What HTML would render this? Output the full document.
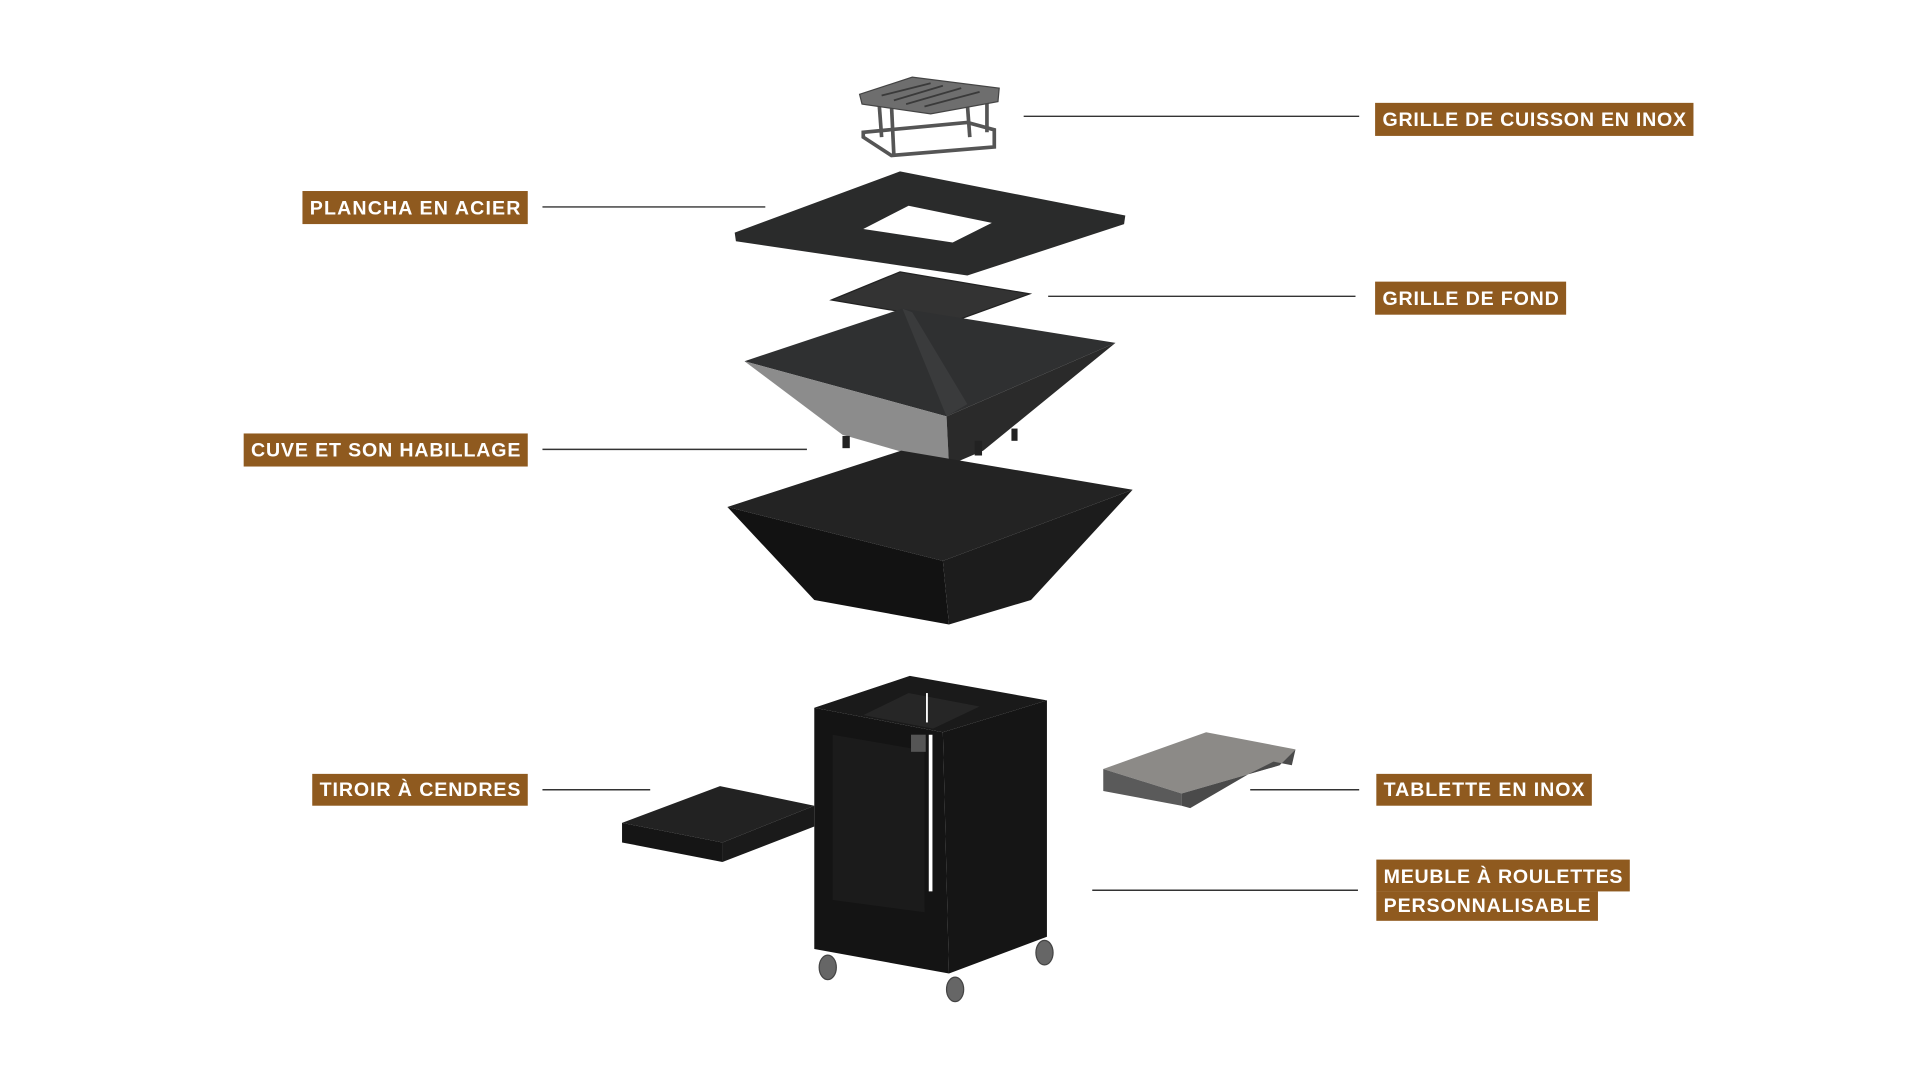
<!DOCTYPE html>
<html><head><meta charset="utf-8"><style>
html,body{margin:0;padding:0;background:#fff;width:1920px;height:1080px;overflow:hidden}
svg{display:block}
text{font-family:"Liberation Sans",sans-serif;font-weight:bold;fill:#fff;font-size:16px}
</style></head><body>
<svg width="1920" height="1080" viewBox="0 0 1568 882" preserveAspectRatio="none">
<g stroke="#333" stroke-width="1.2">
<line x1="836" y1="95" x2="1110" y2="95"/>
<line x1="443" y1="169" x2="625" y2="169"/>
<line x1="856" y1="242" x2="1107" y2="242"/>
<line x1="443" y1="367" x2="659" y2="367"/>
<line x1="443" y1="645" x2="531" y2="645"/>
<line x1="1021" y1="645" x2="1110" y2="645"/>
<line x1="892" y1="727" x2="1109" y2="727"/>
</g>
<g fill="#8f5a1f">
<rect x="1123" y="84" width="260" height="27"/>
<rect x="247" y="156" width="184" height="27"/>
<rect x="1123" y="230" width="156" height="27"/>
<rect x="199" y="354" width="232" height="27"/>
<rect x="255" y="632" width="176" height="26"/>
<rect x="1124" y="632" width="176" height="26"/>
<rect x="1124" y="702" width="207" height="26"/>
<rect x="1124" y="728" width="181" height="24"/>
</g>
<text x="1129" y="103" textLength="248">GRILLE DE CUISSON EN INOX</text>
<text x="253" y="175" textLength="172">PLANCHA EN ACIER</text>
<text x="1129" y="249" textLength="144">GRILLE DE FOND</text>
<text x="205" y="373" textLength="220">CUVE ET SON HABILLAGE</text>
<text x="261" y="650" textLength="164">TIROIR À CENDRES</text>
<text x="1130" y="650" textLength="164">TABLETTE EN INOX</text>
<text x="1130" y="721" textLength="195">MEUBLE À ROULETTES</text>
<text x="1130" y="745" textLength="169">PERSONNALISABLE</text>
<!-- cooking grate -->
<g stroke="#555" stroke-width="3" fill="none">
<path d="M705,112 L728,127 L812,120 L812,106 L790,100 L705,108 Z"/>
<line x1="728" y1="85" x2="730" y2="127"/><line x1="790" y1="85" x2="792" y2="112"/>
<line x1="718" y1="85" x2="720" y2="112"/><line x1="806" y1="80" x2="806" y2="108"/>
</g>
<polygon points="702,77 745,63 816,72 815,83 760,93 704,85" fill="#6e6e6e" stroke="#444"/>
<g stroke="#3a3a3a" stroke-width="1.5"><line x1="720" y1="78" x2="760" y2="68"/><line x1="730" y1="82" x2="770" y2="70"/><line x1="740" y1="85" x2="785" y2="72"/><line x1="755" y1="87" x2="800" y2="75"/></g>
<!-- plancha -->
<polygon points="600,190 735,140 919,176 918,183 790,225 601,197" fill="#2a2b2b"/>
<polygon points="705,187 742,168 810,182 778,198" fill="#fff"/>
<!-- grille de fond -->
<polygon points="679,245 735,222 841,240 780,262" fill="#333" stroke="#222"/>
<!-- cuve -->
<polygon points="608,295 737,252 911,280 773,340" fill="#2f3031"/>
<polygon points="737,252 773,340 790,330 745,255" fill="#3a3b3c"/>
<polygon points="608,295 773,340 775,380 688,355" fill="#8c8c8c"/>
<polygon points="773,340 911,280 803,368 775,380" fill="#2a2a2a"/>
<rect x="688" y="356" width="6" height="10" fill="#222"/><rect x="796" y="360" width="6" height="12" fill="#222"/><rect x="826" y="350" width="5" height="10" fill="#222"/>
<!-- habillage -->
<polygon points="594,414 736,368 925,400 770,458" fill="#232323"/>
<polygon points="594,414 770,458 775,510 665,490" fill="#121212"/>
<polygon points="770,458 925,400 842,490 775,510" fill="#1c1c1c"/>
<!-- cabinet -->
<polygon points="665,578 743,552 855,572 770,598" fill="#1a1a1a"/>
<polygon points="705,584 742,566 800,577 762,595" fill="#262626"/>
<line x1="757" y1="566" x2="757" y2="590" stroke="#fff" stroke-width="1.5"/>
<polygon points="665,578 770,598 775,795 665,775" fill="#141414"/>
<polygon points="770,598 855,572 855,765 775,795" fill="#151515"/>
<line x1="760" y1="600" x2="760" y2="728" stroke="#fff" stroke-width="3"/>
<polygon points="680,600 755,613 755,745 680,735" fill="#1b1b1b"/>
<rect x="744" y="600" width="12" height="14" fill="#555"/>
<g fill="#666" stroke="#444"><ellipse cx="676" cy="790" rx="7" ry="10"/><ellipse cx="780" cy="808" rx="7" ry="10"/><ellipse cx="853" cy="778" rx="7" ry="10"/></g>
<!-- drawer -->
<polygon points="508,672 588,642 665,658 590,688" fill="#222"/>
<polygon points="508,672 590,688 590,704 508,688" fill="#151515"/>
<polygon points="590,688 665,658 665,675 590,704" fill="#1a1a1a"/>
<!-- tablette -->
<polygon points="901,628 985,598 1058,612 1045,625 965,648" fill="#8c8a87"/>
<polygon points="901,628 965,648 965,658 901,646" fill="#5a5a5a"/>
<polygon points="965,648 1045,625 1058,612 1055,625 1040,622 1020,632 972,660 965,658" fill="#4a4a4a"/>
</svg>
</body></html>
